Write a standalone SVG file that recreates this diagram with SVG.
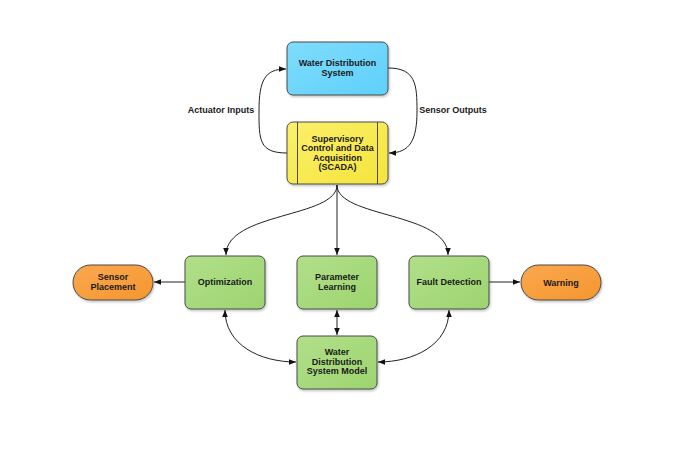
<svg xmlns="http://www.w3.org/2000/svg" width="700" height="450" viewBox="0 0 700 450">
<style>
  .box { stroke: #4a4a4a; stroke-width: 1; filter: url(#sh); }
  .t { font-family: "Liberation Sans", Arial, sans-serif; font-weight: bold; font-size: 9px; fill: #1a1a1a; text-anchor: middle; dominant-baseline: central; }
  .c { fill: none; stroke: #222; stroke-width: 1; }
</style>
<defs>
  <filter id="sh" x="-20%" y="-20%" width="140%" height="140%">
    <feDropShadow dx="1" dy="1.5" stdDeviation="1.2" flood-color="#000" flood-opacity="0.25"/>
  </filter>
  <linearGradient id="gb" x1="0" y1="0" x2="1" y2="1"><stop offset="0" stop-color="#7fdcfc"/><stop offset="1" stop-color="#5fd0fa"/></linearGradient>
  <linearGradient id="gy" x1="0" y1="0" x2="1" y2="1"><stop offset="0" stop-color="#fbf06a"/><stop offset="1" stop-color="#f5e43c"/></linearGradient>
  <linearGradient id="gg" x1="0" y1="0" x2="1" y2="1"><stop offset="0" stop-color="#b1df8a"/><stop offset="1" stop-color="#9dd46f"/></linearGradient>
  <linearGradient id="go" x1="0" y1="0" x2="1" y2="1"><stop offset="0" stop-color="#f9a84f"/><stop offset="1" stop-color="#f6962f"/></linearGradient>
  <marker id="ah" viewBox="0 0 10 10" refX="10" refY="5" markerWidth="7" markerHeight="7" orient="auto-start-reverse" markerUnits="userSpaceOnUse">
    <path d="M0,1 L10,5 L0,9 Z" fill="#111"/>
  </marker>
</defs>

<g id="connectors">
  <path class="c" d="M287,153 C259,153 259,140 259,111 C259,80 265,69 286,69" marker-end="url(#ah)"/>
  <path class="c" d="M388,68 C416,68 417,85 417,111 C417,140 410,153 389,153" marker-end="url(#ah)"/>
  <path class="c" d="M337,185 C337,218 226,212 226,255" marker-end="url(#ah)"/>
  <path class="c" d="M337,185 L337,255" marker-end="url(#ah)"/>
  <path class="c" d="M337,185 C337,218 448,212 448,255" marker-end="url(#ah)"/>
  <path class="c" d="M185,282 L154,282" marker-end="url(#ah)"/>
  <path class="c" d="M489,282 L520,282" marker-end="url(#ah)"/>
  <path class="c" d="M225,310 C225,345 260,362 296,362" marker-start="url(#ah)" marker-end="url(#ah)"/>
  <path class="c" d="M337,310 L337,335" marker-start="url(#ah)" marker-end="url(#ah)"/>
  <path class="c" d="M449,310 C449,345 414,362 378,362" marker-start="url(#ah)" marker-end="url(#ah)"/>
  <text class="t" x="221" y="110">Actuator Inputs</text>
  <text class="t" x="453" y="110">Sensor Outputs</text>
</g>

<g id="wds">
  <rect class="box" x="287" y="42" width="101" height="53" rx="6" fill="url(#gb)"/>
  <text class="t" x="337.5" y="62.5">Water Distribution</text>
  <text class="t" x="337.5" y="72.5">System</text>
</g>

<g id="scada">
  <rect class="box" x="287" y="122" width="101" height="62" rx="6" fill="url(#gy)"/>
  <line x1="297.5" y1="122" x2="297.5" y2="184" stroke="#4a4a4a" stroke-width="1"/>
  <line x1="377.5" y1="122" x2="377.5" y2="184" stroke="#4a4a4a" stroke-width="1"/>
  <text class="t" x="337.5" y="138.5">Supervisory</text>
  <text class="t" x="337.5" y="148">Control and Data</text>
  <text class="t" x="337.5" y="157.5">Acquisition</text>
  <text class="t" x="337.5" y="167">(SCADA)</text>
</g>

<g id="optimization">
  <rect class="box" x="185" y="256" width="80" height="53" rx="6" fill="url(#gg)"/>
  <text class="t" x="225" y="282">Optimization</text>
</g>

<g id="parameter-learning">
  <rect class="box" x="297" y="256" width="80" height="53" rx="6" fill="url(#gg)"/>
  <text class="t" x="337" y="277">Parameter</text>
  <text class="t" x="337" y="287">Learning</text>
</g>

<g id="fault-detection">
  <rect class="box" x="409" y="256" width="80" height="53" rx="6" fill="url(#gg)"/>
  <text class="t" x="449" y="282">Fault Detection</text>
</g>

<g id="model">
  <rect class="box" x="297" y="336" width="80" height="53" rx="6" fill="url(#gg)"/>
  <text class="t" x="337" y="352">Water</text>
  <text class="t" x="337" y="361.5">Distribution</text>
  <text class="t" x="337" y="371">System Model</text>
</g>

<g id="sensor-placement">
  <rect class="box" x="73" y="265" width="80" height="35" rx="17.5" fill="url(#go)"/>
  <text class="t" x="113" y="277">Sensor</text>
  <text class="t" x="113" y="286.5">Placement</text>
</g>

<g id="warning">
  <rect class="box" x="521" y="265" width="80" height="35" rx="17.5" fill="url(#go)"/>
  <text class="t" x="561" y="282.5">Warning</text>
</g>
</svg>
